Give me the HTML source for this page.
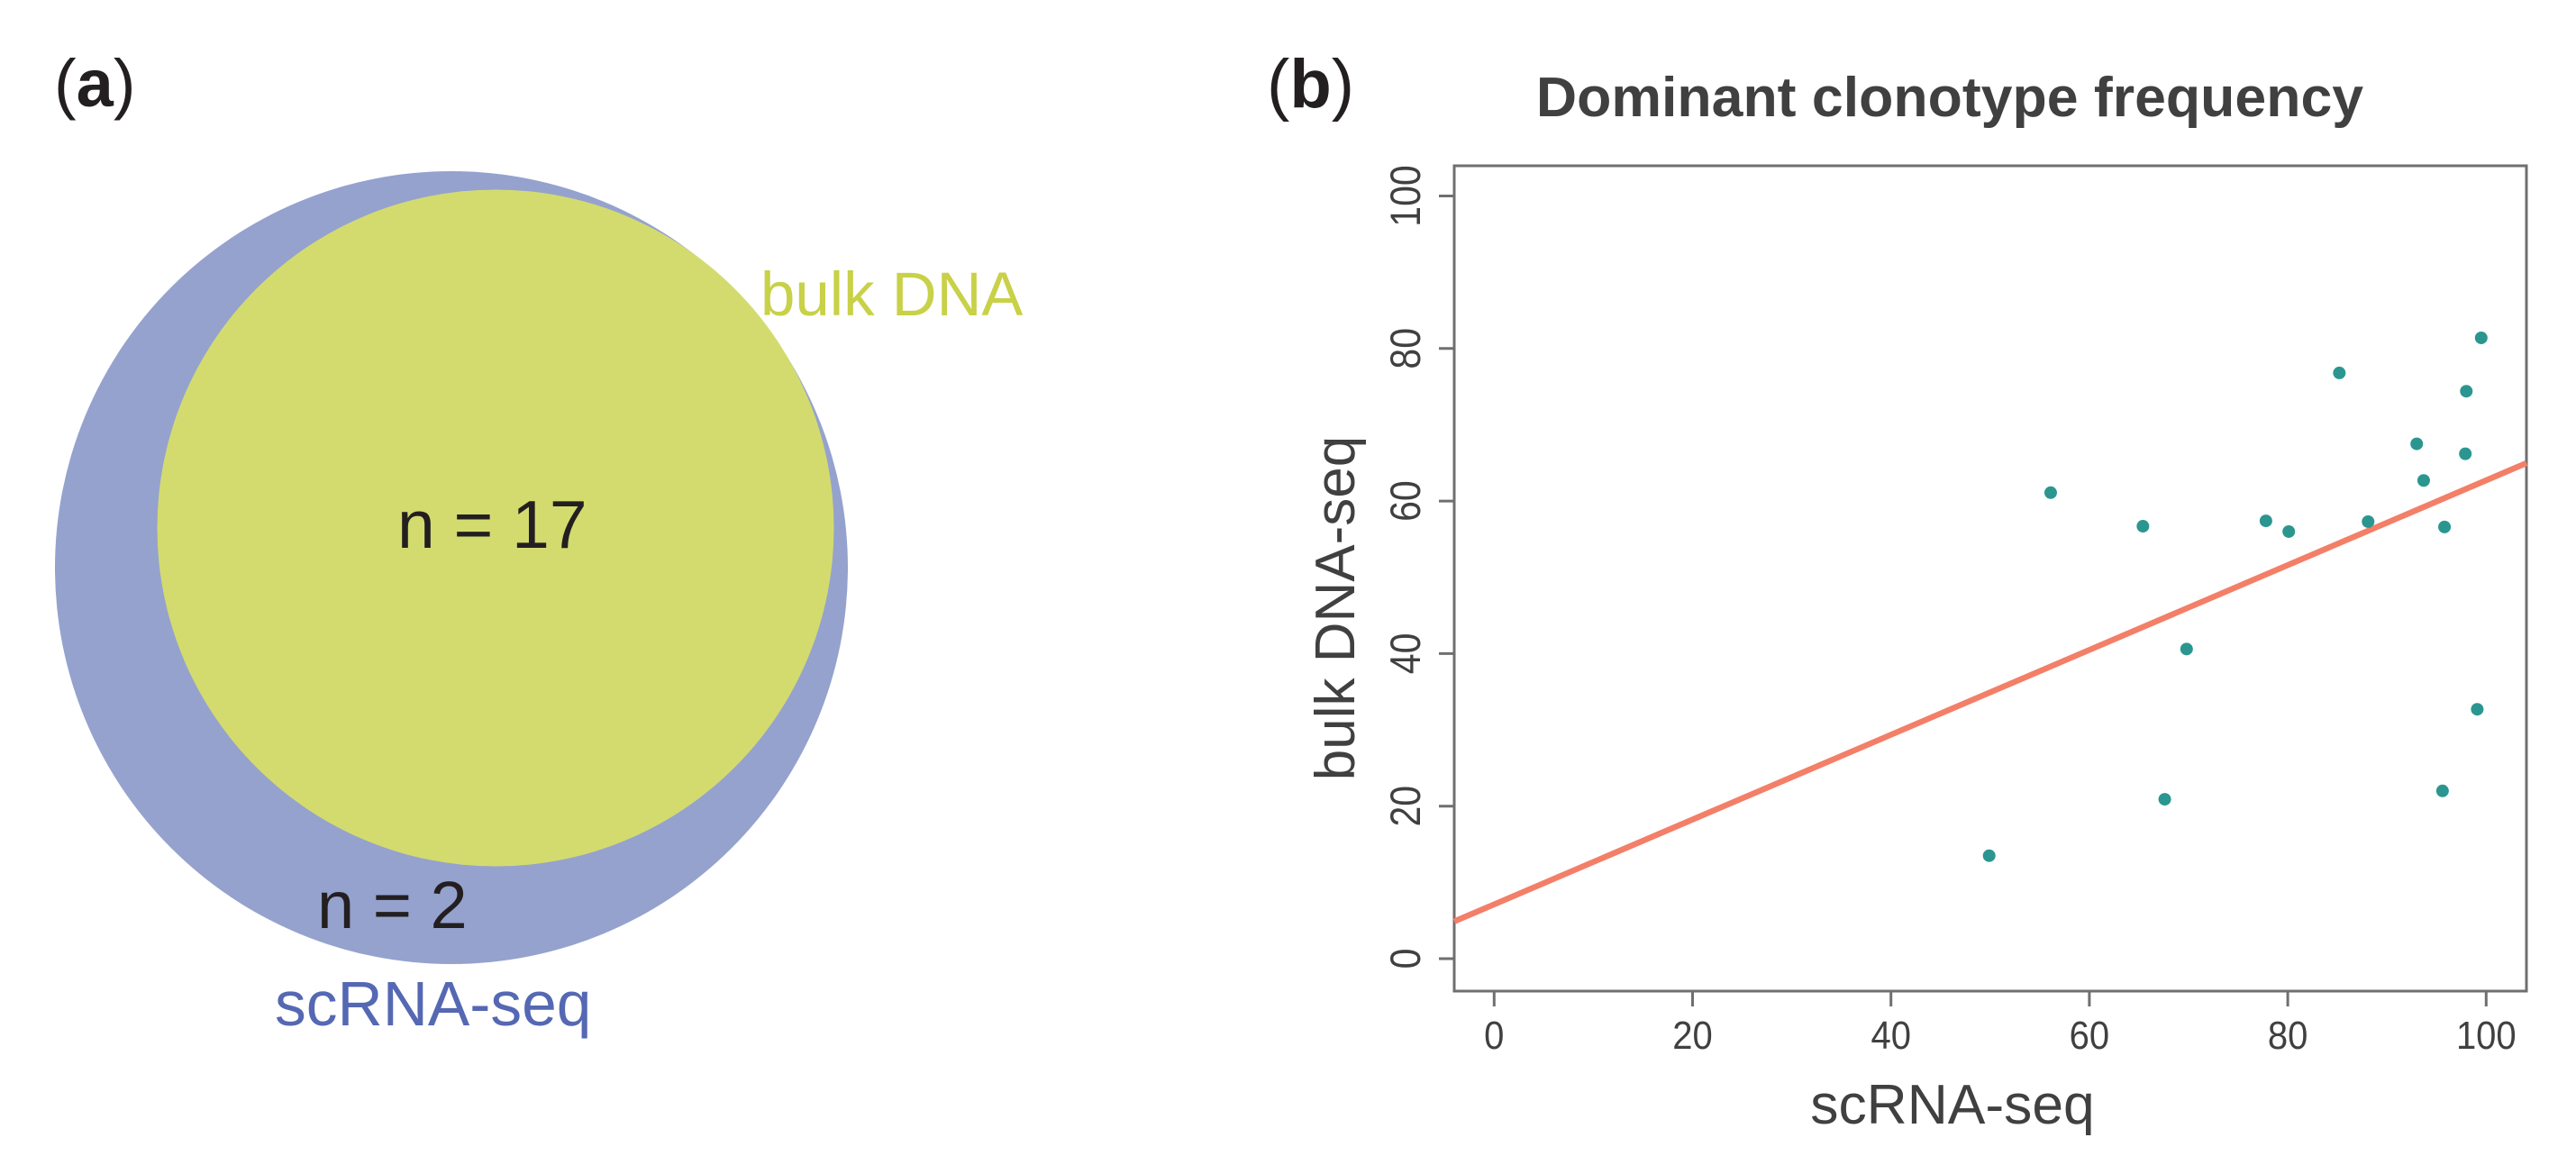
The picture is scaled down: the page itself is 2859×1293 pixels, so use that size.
<!DOCTYPE html>
<html lang="en">
<head>
<meta charset="utf-8">
<title>Venn diagram and dominant clonotype frequency</title>
<style>
html,body{margin:0;padding:0;background:#fff;}
svg{display:block;font-family:"Liberation Sans",sans-serif;}
</style>
</head>
<body>
<svg id="figure" xmlns="http://www.w3.org/2000/svg" width="2859" height="1293" viewBox="0 0 2859 1293">
  <rect x="0" y="0" width="2859" height="1293" fill="#ffffff"/>
  <g>
    <text x="60" y="118" font-size="74" fill="#231f20">(<tspan font-weight="bold">a</tspan>)</text>
    <circle cx="501" cy="630" r="440" fill="#95a2ce"/>
    <circle cx="550" cy="586" r="375.5" fill="#d3db6f"/>
    <text x="844" y="350" font-size="69" fill="#c8d147">bulk DNA</text>
    <text x="305" y="1138" font-size="69.5" fill="#5568b3">scRNA-seq</text>
    <text x="441" y="608" font-size="75" fill="#231f20">n = 17</text>
    <text x="352" y="1030" font-size="74" fill="#231f20">n = 2</text>
  </g>
  <g id="chart">
    <text x="1406" y="119" font-size="76" fill="#231f20">(<tspan font-weight="bold">b</tspan>)</text>
    <text x="2164" y="129" text-anchor="middle" font-size="62.6" font-weight="bold" fill="#404040">Dominant clonotype frequency</text>
    <text x="2167" y="1247" text-anchor="middle" font-size="62.4" fill="#404040">scRNA-seq</text>
    <text transform="translate(1503 675) rotate(-90)" text-anchor="middle" font-size="62" fill="#404040">bulk DNA-seq</text>
  </g>
</svg>
<script>
const xTicks = [0, 20, 40, 60, 80, 100];
const yTicks = [0, 20, 40, 60, 80, 100];
const scRnaValues = [99.5, 85.2, 98, 93, 97.9, 93.7, 56.1, 65.4, 77.8, 80.1, 88.1, 95.8, 69.8, 99.1, 95.6, 67.6, 49.9];
const bulkDnaValues = [81.4, 76.8, 74.4, 67.5, 66.2, 62.7, 61.1, 56.7, 57.4, 56.0, 57.3, 56.6, 40.6, 32.7, 22.0, 20.9, 13.5];
const fitIntercept = [7.12];
const fitSlope = [0.556];

const NS = 'http://www.w3.org/2000/svg';
const chart = document.getElementById('chart');
const box = { left: 1614, right: 2804, top: 184, bottom: 1100 };
const xScale = v => 1658.3 + v * 11.01;
const yScale = v => 1064 - v * 8.465;
const xInverse = p => (p - 1658.3) / 11.01;

function make(tag, attrs) {
  const el = document.createElementNS(NS, tag);
  for (const key in attrs) el.setAttribute(key, attrs[key]);
  chart.appendChild(el);
  return el;
}

const frame = make('rect', { x: box.left, y: box.top, width: box.right - box.left, height: box.bottom - box.top, fill: 'none', stroke: '#6f6f6f', 'stroke-width': 3 });



xTicks.forEach(t => {
  const tick = make('line', { x1: xScale(t), x2: xScale(t), y1: box.bottom, y2: 1117, stroke: '#6f6f6f', 'stroke-width': 3 });
  
  
  const label = make('text', { transform: 'translate(' + xScale(t) + ' 1164) scale(1 1.08)', 'text-anchor': 'middle', 'font-size': 40, fill: '#404040' });
  label.textContent = t;
  
  
});

yTicks.forEach(t => {
  const tick = make('line', { x1: 1597, x2: box.left, y1: yScale(t), y2: yScale(t), stroke: '#6f6f6f', 'stroke-width': 3 });
  
  
  const label = make('text', { transform: 'translate(1576 ' + yScale(t) + ') rotate(-90) scale(1 1.15)', 'text-anchor': 'middle', 'font-size': 41, fill: '#404040' });
  label.textContent = t;
  
  
});

const x0 = xInverse(box.left);
const x1 = xInverse(box.right);
const fit = make('line', {
  x1: xScale(x0), y1: yScale(fitIntercept[0] + fitSlope[0] * x0),
  x2: xScale(x1), y2: yScale(fitIntercept[0] + fitSlope[0] * x1),
  stroke: '#f37f68', 'stroke-width': 6.5
});



scRnaValues.forEach((v, i) => {
  const point = make('circle', { cx: xScale(v), cy: yScale(bulkDnaValues[i]), r: 7, fill: '#2b9690' });
  
  
});
</script>
</body>
</html>
